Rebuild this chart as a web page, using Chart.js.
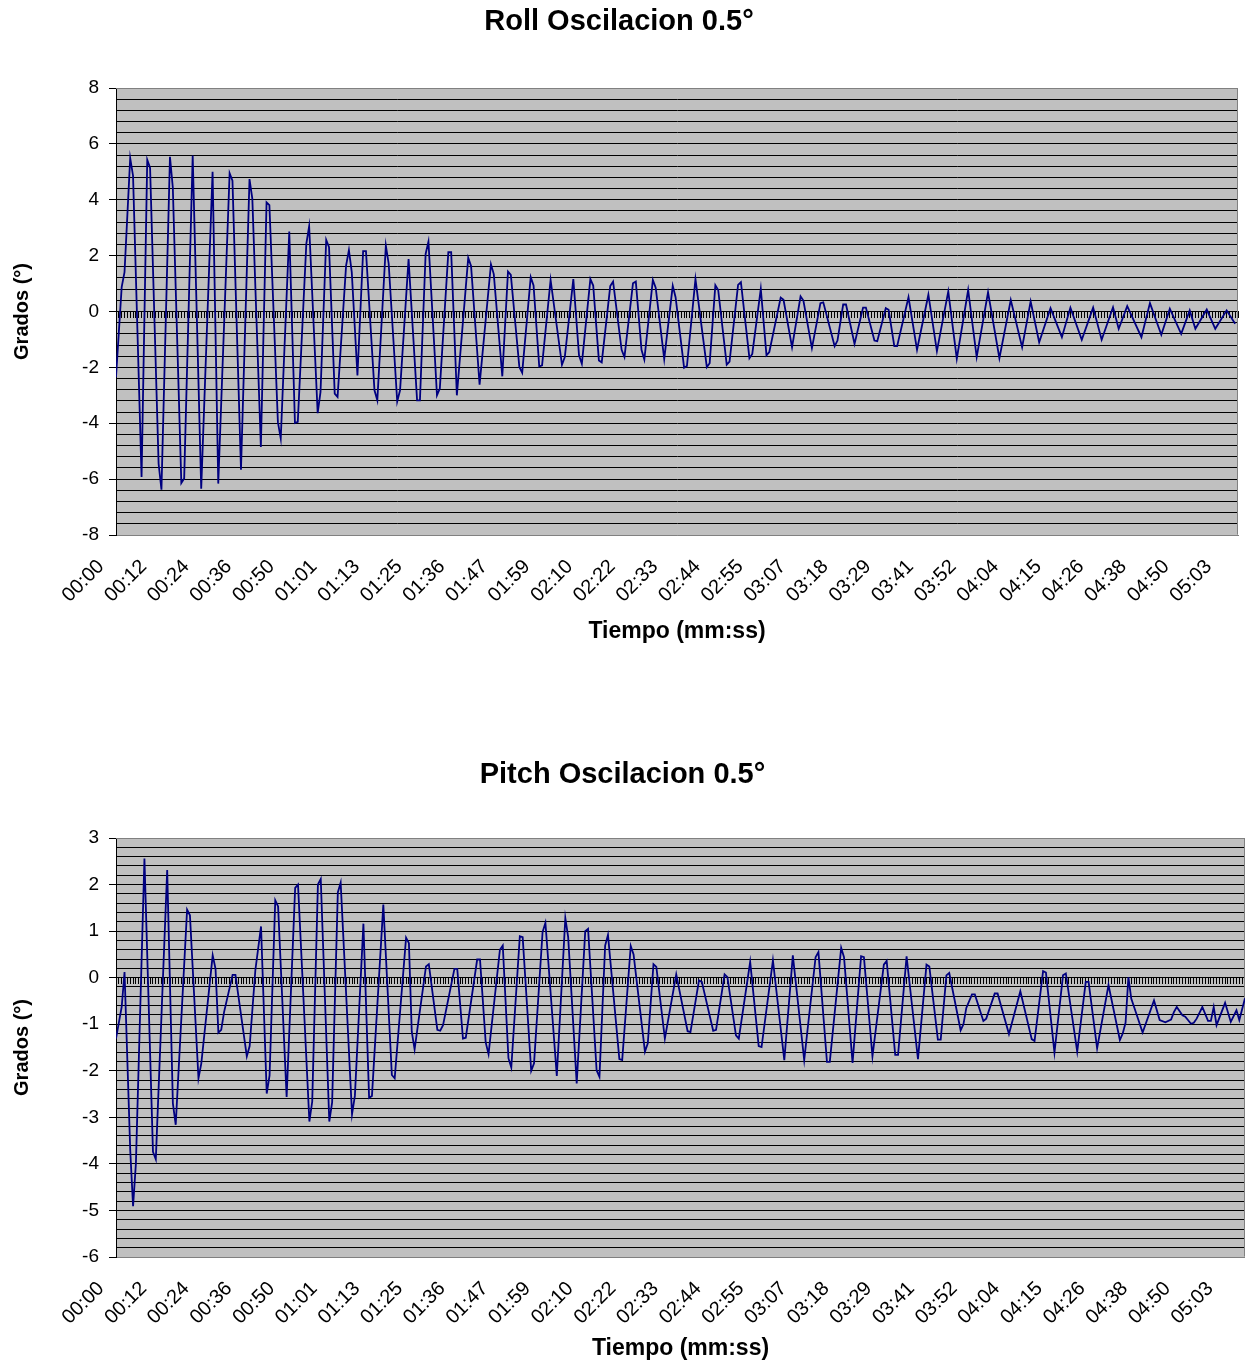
<!DOCTYPE html>
<html>
<head>
<meta charset="utf-8">
<title>Roll / Pitch Oscilacion 0.5°</title>
<script src="https://cdn.jsdelivr.net/npm/chart.js@4.4.1/dist/chart.umd.min.js"></script>
<style>
    html, body { margin: 0; padding: 0; background: #fff; }
    body { width: 1245px; height: 1362px; position: relative; overflow: hidden; }
    .box { position: absolute; left: 0; width: 1245px; }
    #rollBox { top: 0; height: 690px; }
    #pitchBox { top: 750px; height: 612px; }
</style>
</head>
<body>
<div class="box" id="rollBox"><canvas id="roll-chart"></canvas></div>
<div class="box" id="pitchBox"><canvas id="pitch-chart"></canvas></div>
<script>
// Tick labels of the time axis, one every 15 samples
var timeLabels = ['00:00', '00:12', '00:24', '00:36', '00:50', '01:01', '01:13', '01:25', '01:36',
    '01:47', '01:59', '02:10', '02:22', '02:33', '02:44', '02:55', '03:07', '03:18', '03:29',
    '03:41', '03:52', '04:04', '04:15', '04:26', '04:38', '04:50', '05:03'];
var samplesPerLabel = 15;

// Roll: sample number and angle (degrees) (turning points)
var rollSample = [0, 2, 3, 5, 6, 9, 11, 12, 15, 16,
    19, 20, 23, 24, 27, 30, 34, 36, 40, 41,
    44, 47, 48, 51, 53, 54, 57, 58, 61, 63,
    64, 67, 68, 71, 72, 74, 75, 77, 78, 81,
    82, 83, 85, 87, 88, 91, 92, 95, 96, 99,
    100, 103, 106, 107, 109, 110, 113, 114, 117, 118,
    120, 124, 125, 128, 132, 133, 136, 138, 139, 142,
    143, 146, 147, 149, 150, 153, 157, 158, 161, 163,
    164, 167, 168, 170, 171, 174, 175, 178, 179, 182,
    183, 185, 186, 189, 190, 193, 196, 197, 200, 201,
    204, 208, 209, 211, 212, 215, 216, 219, 220, 223,
    224, 227, 229, 230, 234, 235, 238, 241, 242, 245,
    248, 249, 253, 254, 256, 257, 260, 263, 264, 267,
    268, 271, 272, 274, 275, 279, 282, 286, 289, 293,
    296, 300, 303, 307, 311, 315, 319, 322, 325, 329,
    333, 336, 340, 344, 347, 351, 353, 356, 361, 364,
    368, 371, 375, 378, 380, 384, 387, 391, 394];
var rollDeg = [-2.35, 0.87, 1.41, 5.49, 4.86, -5.92, 5.43, 5.14, -5.45, -6.38,
    5.54, 4.44, -6.14, -5.98, 5.58, -6.34, 5.0, -6.16, 4.95, 4.68,
    -5.66, 4.74, 4.03, -4.85, 3.91, 3.81, -3.96, -4.55, 2.86, -3.99,
    -3.95, 2.42, 3.05, -3.64, -2.88, 2.56, 2.30, -2.94, -3.06, 1.64,
    2.2, 1.41, -2.29, 2.16, 2.16, -2.82, -3.18, 2.36, 1.71, -3.22,
    -2.82, 1.88, -3.18, -3.18, 2.06, 2.5, -3.0, -2.76, 2.12, 2.12,
    -3.0, 1.92, 1.63, -2.62, 1.69, 1.34, -2.32, 1.43, 1.31, -1.99,
    -2.19, 1.23, 0.93, -1.97, -1.93, 1.13, -1.91, -1.63, 1.16, -1.57,
    -1.87, 1.16, 0.93, -1.75, -1.82, 0.91, 1.07, -1.37, -1.63, 1.01,
    1.07, -1.37, -1.72, 1.13, 0.85, -1.70, 0.92, 0.51, -2.01, -1.95,
    1.16, -1.99, -1.85, 0.94, 0.77, -1.9, -1.79, 0.95, 1.05, -1.67,
    -1.52, 0.81, -1.57, -1.45, 0.5, 0.42, -1.28, 0.54, 0.39, -1.31,
    0.30, 0.33, -1.24, -1.04, 0.25, 0.25, -1.16, 0.14, 0.14, -1.04,
    -1.06, 0.12, 0.06, -1.24, -1.24, 0.51, -1.37, 0.6, -1.42, 0.72,
    -1.69, 0.77, -1.63, 0.69, -1.67, 0.41, -1.28, 0.36, -1.1, 0.12,
    -0.92, 0.14, -1.01, 0.14, -1.01, 0.15, -0.62, 0.19, -0.92, 0.30,
    -0.83, 0.10, -0.80, 0.04, -0.62, 0.07, -0.62, 0.04, -0.44];

// Pitch: sample number and angle (degrees)
var pitchSample = [0, 2, 3, 5, 6, 7, 10, 13, 14, 18,
    20, 21, 25, 26, 29, 30, 34, 35, 36, 37,
    38, 41, 42, 46, 47, 49, 51, 53, 54, 56,
    57, 60, 63, 64, 68, 69, 71, 72, 75, 76,
    78, 79, 83, 84, 87, 89, 90, 94, 97, 98,
    102, 103, 104, 105, 109, 110, 113, 114, 115, 119,
    120, 122, 123, 127, 128, 130, 131, 135, 136, 138,
    139, 142, 143, 146, 147, 150, 151, 155, 158, 159,
    162, 165, 166, 169, 170, 172, 173, 177, 178, 181,
    182, 186, 187, 189, 190, 193, 197, 201, 202, 205,
    206, 210, 211, 214, 215, 218, 219, 223, 226, 227,
    231, 235, 238, 242, 246, 247, 250, 251, 255, 256,
    259, 262, 263, 266, 270, 271, 274, 275, 278, 282,
    285, 286, 289, 290, 292, 293, 297, 298, 299, 301,
    302, 305, 306, 309, 310, 314, 318, 322, 323, 326,
    327, 330, 333, 334, 338, 341, 342, 345, 349, 353,
    354, 355, 356, 357, 358, 361, 365, 367, 369, 371,
    372, 373, 375, 376, 378, 379, 380, 382, 384, 385,
    386, 387, 390, 392, 394, 395, 397];
var pitchDeg = [-1.31, -0.63, 0.12, -3.7, -4.91, -3.99, 2.56, -3.74, -3.9, 2.31,
    -2.7, -3.16, 1.46, 1.34, -2.16, -1.84, 0.48, 0.19, -1.18, -1.12,
    -0.74, 0.06, 0.06, -1.69, -1.47, 0.16, 1.1, -2.49, -2.1, 1.66,
    1.53, -2.56, 1.93, 2.0, -3.09, -2.66, 2.0, 2.12, -3.09, -2.68,
    1.83, 2.04, -2.93, -2.54, 1.16, -2.58, -2.54, 1.57, -2.09, -2.16,
    0.86, 0.74, -1.16, -1.54, 0.24, 0.29, -1.12, -1.14, -1.02, 0.19,
    0.19, -1.31, -1.29, 0.39, 0.39, -1.39, -1.64, 0.6, 0.69, -1.73,
    -1.93, 0.89, 0.87, -2.0, -1.84, 0.98, 1.18, -2.11, 1.28, 0.87,
    -2.27, 1.0, 1.05, -1.99, -2.13, 0.69, 0.92, -1.75, -1.77, 0.68,
    0.50, -1.59, -1.41, 0.29, 0.23, -1.31, 0.07, -1.15, -1.17, -0.06,
    -0.09, -1.14, -1.12, 0.07, 0.01, -1.24, -1.31, 0.34, -1.47, -1.49,
    0.37, -1.77, 0.48, -1.77, 0.44, 0.55, -1.81, -1.81, 0.64, 0.44,
    -1.83, 0.46, 0.44, -1.69, 0.28, 0.36, -1.66, -1.66, 0.46, -1.75,
    0.28, 0.24, -1.33, -1.33, 0.05, 0.10, -1.13, -1.0, -0.65, -0.36,
    -0.36, -0.93, -0.88, -0.34, -0.34, -1.21, -0.29, -1.32, -1.36, 0.14,
    0.11, -1.61, 0.05, 0.09, -1.59, -0.09, -0.09, -1.52, -0.16, -1.34,
    -1.2, -0.97, 0.01, -0.45, -0.63, -1.18, -0.49, -0.91, -0.96, -0.9,
    -0.74, -0.63, -0.81, -0.84, -0.99, -0.97, -0.88, -0.63, -0.93, -0.93,
    -0.63, -1.02, -0.54, -0.95, -0.7, -0.91, -0.44];

var FONT = "'Liberation Sans', Arial, Helvetica, sans-serif";

function isMultiple(value, step) {
    var r = value / step;
    return Math.abs(r - Math.round(r)) < 1e-6;
}

// gray plot area with a thin frame, like the spreadsheet chart
var plotFrame = {
    id: 'plotFrame',
    beforeDraw: function (chart) {
        var a = chart.chartArea, ctx = chart.ctx;
        ctx.save();
        ctx.fillStyle = '#c0c0c0';
        ctx.fillRect(a.left, a.top, a.right - a.left, a.bottom - a.top);
        ctx.restore();
    },
    beforeDatasetsDraw: function (chart) {
        var a = chart.chartArea, ctx = chart.ctx;
        ctx.save();
        ctx.strokeStyle = '#808080';
        ctx.lineWidth = 1;
        ctx.beginPath();
        ctx.moveTo(a.left, Math.round(a.top) + 0.5);
        ctx.lineTo(Math.round(a.right) - 0.5, Math.round(a.top) + 0.5);
        ctx.lineTo(Math.round(a.right) - 0.5, Math.round(a.bottom) - 0.5);
        ctx.stroke();
        ctx.restore();
    }
};

// no extra side room for rotated labels: the plot keeps its own width
function noSidePadding(scale) {
    scale.paddingLeft = 0;
    scale.paddingRight = 0;
}

function buildChart(canvasId, titleText, samples, degrees, o) {
    var points = samples.map(function (s, i) {
        return { x: s, y: degrees[i] };
    });

    return new Chart(document.getElementById(canvasId), {
        type: 'line',
        data: {
            datasets: [{
                data: points,
                borderColor: '#000080',
                borderWidth: 1.8,
                pointRadius: 0,
                tension: 0,
                fill: false,
                xAxisID: 'x',
                yAxisID: 'y'
            }]
        },
        options: {
            responsive: true,
            maintainAspectRatio: false,
            animation: false,
            layout: { padding: { left: 0, right: o.rightPad, top: 0, bottom: 0 } },
            plugins: {
                legend: { display: false },
                tooltip: { enabled: false },
                title: {
                    display: true,
                    text: titleText,
                    color: '#000',
                    font: { family: FONT, size: 29, weight: 'bold' },
                    padding: { top: o.titleTop, bottom: o.titleBottom }
                }
            },
            scales: {
                x: {
                    type: 'linear',
                    min: 0,
                    max: o.lastSample,
                    grid: { display: false, drawTicks: false },
                    border: { color: '#808080', width: 1 },
                    ticks: {
                        stepSize: samplesPerLabel,
                        autoSkip: false,
                        includeBounds: false,
                        minRotation: 45,
                        maxRotation: 45,
                        padding: 20,
                        labelOffset: -15,
                        color: '#000',
                        font: { family: FONT, size: 20 },
                        callback: function (value) {
                            return timeLabels[Math.round(value / samplesPerLabel)];
                        }
                    },
                    title: {
                        display: true,
                        text: 'Tiempo (mm:ss)',
                        color: '#000',
                        font: { family: FONT, size: 23, weight: 'bold' },
                        padding: { top: 0, bottom: o.xTitleBottom }
                    },
                    afterFit: function (scale) {
                        scale.height = o.xHeight;
                        noSidePadding(scale);
                    }
                },
                // category axis crossing at 0, with a tick mark per sample
                zero: {
                    type: 'linear',
                    axis: 'x',
                    position: { y: 0 },
                    min: 0,
                    max: o.lastSample,
                    grid: { drawOnChartArea: false, tickLength: 6, tickColor: '#000', tickWidth: 1 },
                    border: { color: '#000', width: 1 },
                    ticks: { display: false, stepSize: 1, includeBounds: false },
                    afterFit: noSidePadding
                },
                y: {
                    min: o.yMin,
                    max: o.yMax,
                    grid: {
                        lineWidth: 1,
                        tickLength: 7,
                        color: function (c) {
                            var v = c.tick.value;
                            return (v >= o.yMax || v <= o.yMin) ? '#808080' : '#000';
                        },
                        tickColor: function (c) {
                            return isMultiple(c.tick.value, o.labelStep) ? '#000' : 'rgba(0,0,0,0)';
                        }
                    },
                    border: { color: '#000', width: 1 },
                    ticks: {
                        stepSize: o.gridStep,
                        autoSkip: false,
                        padding: 10,
                        color: '#000',
                        font: { family: FONT, size: 19 },
                        callback: function (value) {
                            return isMultiple(value, o.labelStep) ? String(Math.round(value)) : '';
                        }
                    },
                    title: {
                        display: true,
                        text: 'Grados (°)',
                        color: '#000',
                        font: { family: FONT, size: 20, weight: 'bold' },
                        padding: { top: 10, bottom: 0 }
                    },
                    afterFit: function (scale) { scale.width = 116; }
                }
            }
        },
        plugins: [plotFrame]
    });
}

buildChart('roll-chart', 'Roll Oscilacion 0.5°', rollSample, rollDeg, {
    lastSample: 395, yMin: -8, yMax: 8, gridStep: 0.4, labelStep: 2,
    rightPad: 7, titleTop: 4.6, titleBottom: 48.6, xHeight: 155, xTitleBottom: 44.2
});

buildChart('pitch-chart', 'Pitch Oscilacion 0.5°', pitchSample, pitchDeg, {
    lastSample: 397, yMin: -6, yMax: 3, gridStep: 0.2, labelStep: 1,
    rightPad: 0, titleTop: 7.6, titleBottom: 45.6, xHeight: 105, xTitleBottom: 0
});
</script>
</body>
</html>
